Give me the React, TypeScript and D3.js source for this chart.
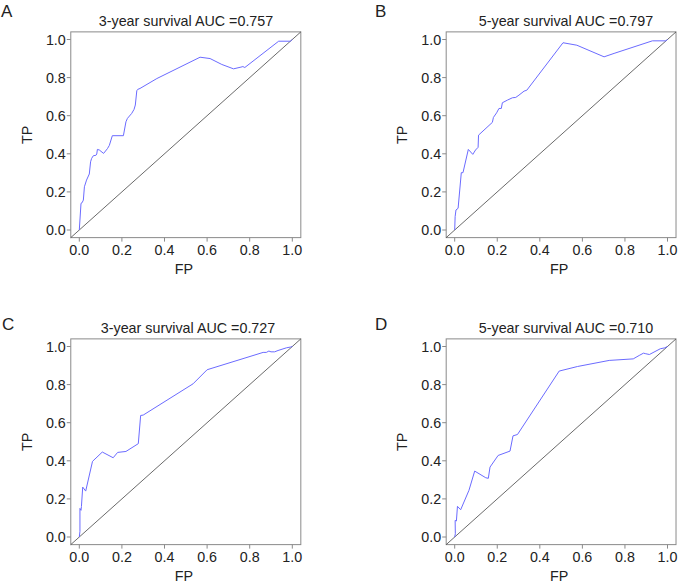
import React from "react";
import * as d3 from "d3";

const W = 679;
const H = 584;

type Pt = [number, number];

const panelLetters = ["A", "B", "C", "D"];
const panelTitles = [
  "3-year survival AUC =0.757",
  "5-year survival AUC =0.797",
  "3-year survival AUC =0.727",
  "5-year survival AUC =0.710",
];
const tickValues = [0, 0.2, 0.4, 0.6, 0.8, 1.0];
const xLabel = "FP";
const yLabel = "TP";

const rocA: Pt[] = [
  [0, 0], [0.008, 0.14], [0.013, 0.143], [0.019, 0.157], [0.024, 0.227], [0.034, 0.262],
  [0.047, 0.294], [0.053, 0.358], [0.058, 0.376], [0.066, 0.39], [0.078, 0.392],
  [0.082, 0.399], [0.085, 0.423], [0.094, 0.42], [0.114, 0.402], [0.132, 0.427],
  [0.141, 0.444], [0.155, 0.495], [0.207, 0.495], [0.219, 0.568], [0.226, 0.586],
  [0.246, 0.612], [0.257, 0.633], [0.263, 0.656], [0.27, 0.731], [0.274, 0.738],
  [0.285, 0.743], [0.364, 0.795], [0.567, 0.907], [0.614, 0.9], [0.669, 0.869],
  [0.724, 0.846], [0.759, 0.855], [0.768, 0.858], [0.777, 0.853], [0.936, 0.991],
  [0.991, 0.991], [1, 1],
];

const rocB: Pt[] = [
  [0, 0], [0.002, 0.07], [0.006, 0.105], [0.016, 0.114], [0.031, 0.301], [0.039, 0.301],
  [0.064, 0.423], [0.085, 0.397], [0.098, 0.42], [0.11, 0.434], [0.112, 0.498],
  [0.177, 0.565], [0.182, 0.591], [0.197, 0.615], [0.208, 0.638], [0.219, 0.638],
  [0.224, 0.668], [0.248, 0.682], [0.271, 0.694], [0.287, 0.696], [0.302, 0.708],
  [0.326, 0.729], [0.339, 0.734], [0.509, 0.983], [0.574, 0.97], [0.702, 0.909],
  [0.749, 0.927], [0.929, 0.993], [0.992, 0.993], [1, 1],
];

const rocC: Pt[] = [
  [0, 0], [0.003, 0.03], [0.003, 0.15], [0.008, 0.14], [0.01, 0.16], [0.016, 0.262],
  [0.03, 0.241], [0.062, 0.397], [0.108, 0.446], [0.159, 0.416], [0.18, 0.444],
  [0.219, 0.449], [0.277, 0.49], [0.288, 0.638], [0.3, 0.64], [0.534, 0.804],
  [0.6, 0.878], [0.863, 0.969], [0.878, 0.969], [0.89, 0.976], [0.9, 0.972],
  [0.917, 0.972], [0.933, 0.979], [0.972, 0.993], [0.991, 0.997], [1, 1],
];

const rocD: Pt[] = [
  [0, 0], [0.003, 0.017], [0.002, 0.087], [0.008, 0.084], [0.013, 0.161], [0.028, 0.143],
  [0.067, 0.245], [0.094, 0.346], [0.146, 0.311], [0.158, 0.308], [0.166, 0.367],
  [0.204, 0.428], [0.26, 0.451], [0.274, 0.531], [0.295, 0.538], [0.491, 0.871],
  [0.577, 0.895], [0.726, 0.927], [0.839, 0.935], [0.867, 0.953], [0.887, 0.965],
  [0.898, 0.962], [0.915, 0.958], [0.966, 0.988], [0.987, 0.993], [1, 1],
];

const curves = [rocA, rocB, rocC, rocD];

// layout per panel: pixel positions of data 0 and 1
const colX: [number, number][] = [[79.3, 292.3], [454.7, 667.5]];
const rowY: [number, number][] = [[230, 39.5], [537, 346.5]];
const letterPos: [number, number][] = [[1, 17], [375, 17], [2, 330], [375, 330]];
const titleX = [186, 566, 188, 566];

const FONT = "'Liberation Sans', Arial, Helvetica, sans-serif";

function Panel({ i }: { i: number }) {
  const col = i % 2;
  const row = Math.floor(i / 2);
  const [px0, px1] = colX[col];
  const [py0, py1] = rowY[row];
  const x = d3.scaleLinear().domain([0, 1]).range([px0, px1]);
  const y = d3.scaleLinear().domain([0, 1]).range([py0, py1]);
  const left = x(-0.04), right = x(1.04), top = y(1.04), bottom = y(-0.04);
  const line = d3.line<Pt>().x((d) => x(d[0])).y((d) => y(d[1]));
  const fmt = d3.format(".1f");
  const boxColor = "#8a8a8a";
  const textColor = "#222";
  return (
    <g>
      <text x={letterPos[i][0]} y={letterPos[i][1]} fontSize={17} fill={textColor} fontFamily={FONT}>
        {panelLetters[i]}
      </text>
      <text x={titleX[i]} y={top - 6} fontSize={14.3} textAnchor="middle" fill={textColor} fontFamily={FONT}>
        {panelTitles[i]}
      </text>
      <rect x={left} y={top} width={right - left} height={bottom - top} fill="none" stroke={boxColor} strokeWidth={1} />
      <line x1={x(-0.04)} y1={y(-0.04)} x2={x(1.04)} y2={y(1.04)} stroke="#444" strokeWidth={0.8} />
      <path d={line(curves[i]) || ""} fill="none" stroke="#6b6bff" strokeWidth={1} strokeLinejoin="round" />
      {tickValues.map((t) => (
        <g key={"x" + t}>
          <line x1={x(t)} x2={x(t)} y1={bottom} y2={bottom + 4} stroke={boxColor} />
          <text x={x(t)} y={bottom + 17} fontSize={14.3} textAnchor="middle" fill={textColor} fontFamily={FONT}>
            {fmt(t)}
          </text>
        </g>
      ))}
      {tickValues.map((t) => (
        <g key={"y" + t}>
          <line x1={left - 4} x2={left} y1={y(t)} y2={y(t)} stroke={boxColor} />
          <text x={left - 5} y={y(t) + 5} fontSize={14.3} textAnchor="end" fill={textColor} fontFamily={FONT}>
            {fmt(t)}
          </text>
        </g>
      ))}
      <text x={(left + right) / 2 - 2} y={bottom + 36} fontSize={14.3} textAnchor="middle" fill={textColor} fontFamily={FONT}>
        {xLabel}
      </text>
      <text
        transform={`translate(${left - 39},${(top + bottom) / 2}) rotate(-90)`}
        fontSize={14.3}
        textAnchor="middle"
        fill={textColor}
        fontFamily={FONT}
      >
        {yLabel}
      </text>
    </g>
  );
}

export default function App() {
  return (
    <svg
      width={W}
      height={H}
      style={{ position: "absolute", left: 0, top: 0, background: "#fff" }}
    >
      <rect x={0} y={0} width={W} height={H} fill="#fff" />
      {[0, 1, 2, 3].map((i) => (
        <Panel key={i} i={i} />
      ))}
    </svg>
  );
}
